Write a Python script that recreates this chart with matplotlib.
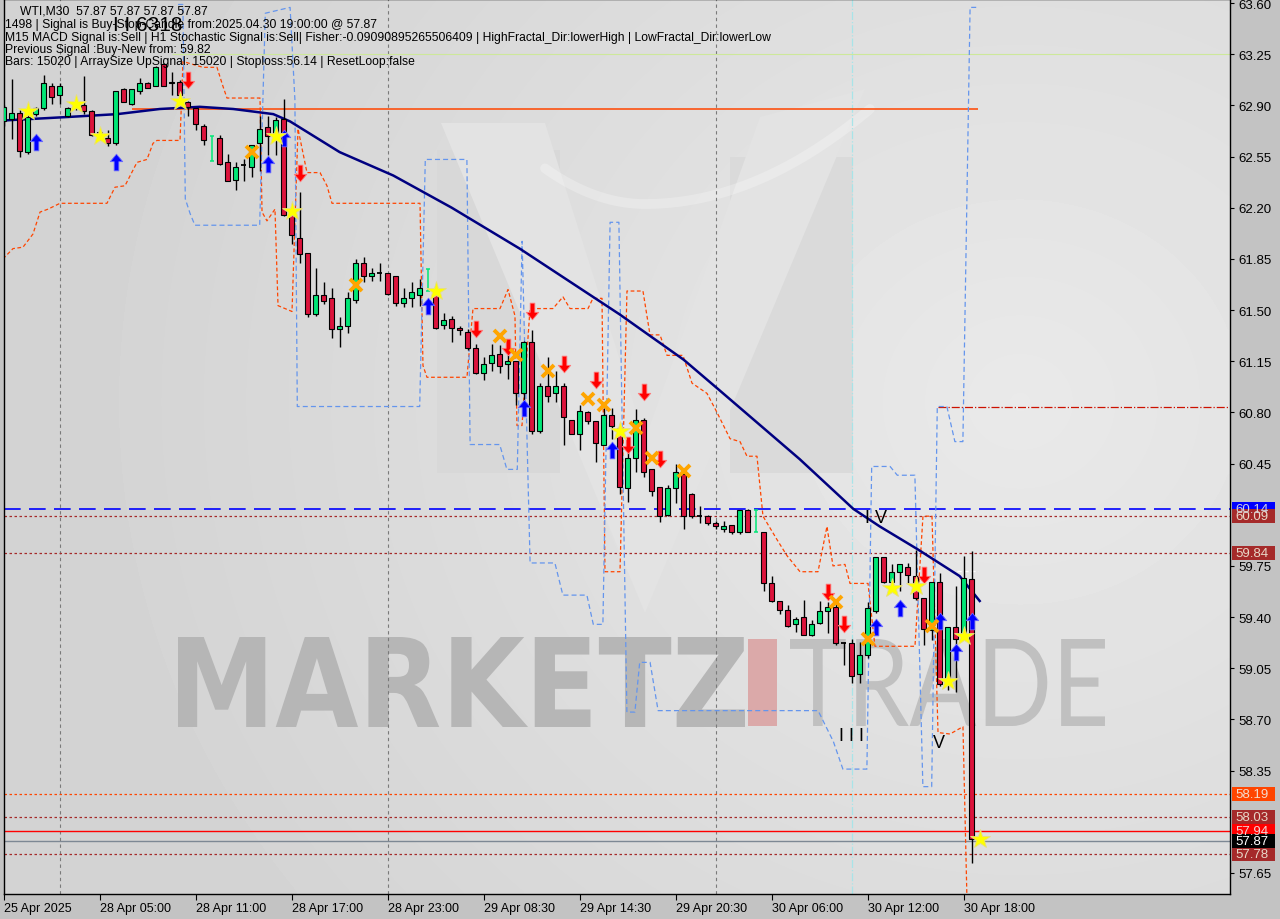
import numpy as np
import matplotlib.pyplot as plt
import matplotlib.transforms as mtransforms
from matplotlib.patches import Rectangle, Polygon, PathPatch
from matplotlib.path import Path
from matplotlib.textpath import TextPath
from matplotlib.font_manager import FontProperties

nan = np.nan

# WTI M30 bars, index -1 is the bar cut by the left edge
bar_idx = np.arange(-1, 122)
opens = [62.79, 62.81, 62.85, 62.58, 62.84, 62.88, 63.03, 62.97, 62.83, 62.88,
         62.90, 62.86, 62.72, 62.68, 62.64, 63.01, 62.91, 63.00, 63.05, 63.03,
         63.18, 63.05, 63.06, 62.92, 62.88, 62.76, nan, 62.68, 62.51, 62.39,
         62.49, 62.48, 62.64, 62.75, 62.70, 62.81, 62.15, 61.99, 61.89, 61.47,
         61.60, 61.58, 61.37, 61.39, 61.57, 61.82, 61.73, 61.75, 61.75, 61.73,
         61.55, 61.58, 61.60, nan, 61.61, 61.40, 61.44, 61.38, 61.35, 61.24,
         61.07, 61.14, 61.20, 61.13, 61.15, 60.93, 61.28, 60.67, 60.98, 60.93,
         60.98, 60.75, 60.65, 60.80, 60.74, 60.58, 60.78, 60.69, 60.28, 60.49,
         60.75, 60.41, 60.29, 60.10, 60.28, 60.38, 60.24, 60.09, 60.09, 60.04,
         60.00, 60.03, 59.98, 60.13, nan, 59.98, 59.63, 59.51, 59.45, 59.35,
         59.40, 59.28, 59.36, 59.44, 59.47, 59.22, 59.22, 59.01, 59.14, 59.44,
         59.81, 59.64, 59.71, 59.74, 59.68, 59.53, 59.31, 59.64, 58.94, 59.33,
         59.28, 59.66, 57.87]
highs = [62.90, 63.08, 62.87, 62.84, 62.89, 63.11, 63.05, 63.05, 62.89, 62.93,
         63.10, 62.87, 62.73, 62.73, 63.00, 63.02, 63.01, 63.09, 63.06, 63.17,
         63.19, 63.13, 63.07, 62.93, 62.88, 62.77, nan, 62.70, 62.57, 62.51,
         62.53, 62.63, 62.83, 62.83, 62.82, 62.94, 62.17, 62.31, 61.89, 61.79,
         61.69, 61.65, 61.45, 61.62, 61.85, 61.86, 61.79, 61.82, 61.75, 61.73,
         61.65, 61.69, 61.71, nan, 61.67, 61.48, 61.46, 61.39, 61.37, 61.27,
         61.18, 61.27, 61.26, 61.19, 61.15, 61.29, 61.36, 61.00, 61.18, 61.08,
         61.00, 60.75, 60.85, 60.81, 60.74, 60.83, 60.83, 60.70, 60.58, 60.82,
         60.76, 60.41, 60.29, 60.30, 60.45, 60.41, 60.25, 60.16, 60.10, 60.06,
         60.06, 60.03, 60.13, 60.14, nan, 59.98, 59.68, 59.51, 59.48, 59.40,
         59.52, 59.38, 59.51, 59.50, 59.49, 59.23, 59.25, 59.23, 59.50, 59.81,
         59.81, 59.76, 59.76, 59.77, 59.86, 59.53, 59.64, 59.70, 59.33, 59.61,
         59.82, 59.85, 57.87]
lows = [62.76, 62.67, 62.55, 62.57, 62.83, 62.87, 62.91, 62.91, 62.82, 62.87,
        62.84, 62.69, 62.66, 62.62, 62.63, 62.92, 62.90, 62.98, 63.02, 63.03,
        63.03, 62.97, 62.93, 62.83, 62.73, 62.63, nan, 62.49, 62.38, 62.32,
        62.38, 62.41, 62.45, 62.56, 62.56, 62.14, 61.95, 61.82, 61.45, 61.46,
        61.54, 61.31, 61.25, 61.34, 61.55, 61.69, 61.70, 61.70, 61.60, 61.53,
        61.52, 61.52, 61.53, nan, 61.37, 61.37, 61.28, 61.33, 61.23, 61.06,
        61.02, 61.08, 61.07, 61.03, 60.85, 60.78, 60.65, 60.66, 60.87, 60.87,
        60.58, 60.65, 60.54, 60.72, 60.46, 60.58, 60.62, 60.24, 60.19, 60.39,
        60.36, 60.23, 60.05, 60.09, 60.18, 60.00, 60.08, 60.04, 60.03, 60.00,
        59.98, 59.97, 59.97, 59.98, nan, 59.58, 59.50, 59.42, 59.33, 59.30,
        59.28, 59.27, 59.35, 59.29, 59.21, 59.07, 58.95, 58.95, 59.12, 59.43,
        59.63, 59.58, 59.58, 59.63, 59.52, 59.21, 59.24, 58.93, 58.90, 58.89,
        59.27, 57.72, 57.87]
closes = [62.89, 62.85, 62.59, 62.82, 62.88, 63.05, 62.96, 63.03, 62.88, 62.91,
          62.86, 62.70, 62.69, 62.64, 63.00, 62.92, 63.01, 63.05, 63.02, 63.16,
          63.03, 63.06, 62.97, 62.89, 62.77, 62.66, nan, 62.50, 62.38, 62.48,
          62.49, 62.63, 62.74, 62.69, 62.80, 62.15, 62.01, 61.88, 61.47, 61.60,
          61.56, 61.37, 61.39, 61.58, 61.82, 61.73, 61.75, 61.75, 61.61, 61.55,
          61.58, 61.62, 61.65, nan, 61.38, 61.43, 61.38, 61.36, 61.24, 61.07,
          61.13, 61.19, 61.12, 61.15, 60.93, 61.28, 60.67, 60.98, 60.91, 60.98,
          60.77, 60.65, 60.81, 60.74, 60.59, 60.78, 60.71, 60.29, 60.49, 60.75,
          60.39, 60.26, 60.09, 60.28, 60.39, 60.09, 60.09, 60.09, 60.04, 60.02,
          60.02, 59.98, 60.13, 59.98, nan, 59.63, 59.51, 59.45, 59.34, 59.39,
          59.28, 59.35, 59.44, 59.47, 59.22, 59.22, 59.00, 59.14, 59.46, 59.81,
          59.64, 59.71, 59.76, 59.69, 59.53, 59.32, 59.64, 58.94, 59.33, 59.25,
          59.67, 57.88, 57.87]

# green signal ticks standing in for a candle
tick_idx = [25, 52, 93]
tick_lo = [62.52, 61.63, 59.98]
tick_hi = [62.69, 61.78, 60.13]

# moving average
ma_idx = [-1.5, 6.9, 13.2, 18.5, 23.5, 27.7, 32.7, 34.8, 41.0, 47.7, 55.0,
          63.5, 76.0, 84.0, 88.5, 98.5, 105.2, 108.5, 113.2, 118.5, 121.0]
ma_val = [62.795, 62.82, 62.84, 62.875, 62.89, 62.875, 62.84, 62.79, 62.58, 62.42, 62.20,
          61.92, 61.47, 61.16, 60.95, 60.48, 60.14, 60.02, 59.865, 59.68, 59.51]

# stepped channel lines
red_ch_idx = [-1.09, 0.16, 1.41, 2.66, 3.54, 4.54, 6.04, 11.91, 12.91, 14.16,
              15.66, 16.91, 17.66, 18.16, 21.04, 21.41, 23.91, 25.66, 26.41, 26.91,
              31.04, 31.29, 31.91, 32.91, 33.29, 35.04, 35.79, 36.91, 38.54, 39.41,
              40.04, 51.04, 51.41, 51.91, 56.91, 57.66, 61.04, 62.04, 62.91, 63.16,
              63.79, 64.79, 67.66, 68.91, 69.79, 72.04, 72.66, 73.79, 74.16, 76.04,
              76.91, 78.91, 79.79, 81.04, 81.91, 83.91, 85.04, 86.91, 88.16, 89.79,
              91.04, 91.91, 93.16, 93.91, 95.66, 96.91, 98.54, 100.79, 101.91, 102.66,
              104.16, 104.79, 107.04, 107.91, 112.91, 113.91, 115.04, 115.79, 117.29, 118.91,
              119.41]
red_ch_val = [61.85, 61.92, 61.93, 62.02, 62.17, 62.19, 62.23, 62.23, 62.34, 62.35,
              62.51, 62.53, 62.64, 62.66, 62.66, 63.20, 63.16, 63.16, 63.03, 62.95,
              62.95, 62.17, 62.11, 62.19, 61.53, 61.49, 62.74, 62.44, 62.44, 62.35,
              62.23, 62.23, 61.12, 61.04, 61.04, 61.51, 61.51, 61.64, 61.46, 60.71,
              60.71, 61.51, 61.51, 61.59, 61.51, 61.51, 61.58, 61.58, 59.71, 59.71,
              61.63, 61.63, 61.33, 61.33, 61.19, 61.19, 61.00, 60.93, 60.80, 60.62,
              60.60, 60.50, 60.50, 60.09, 59.93, 59.82, 59.71, 59.71, 60.02, 59.75,
              59.76, 59.63, 59.63, 59.20, 59.20, 60.09, 60.09, 58.61, 58.60, 58.65,
              57.47]
blue_ch_idx = [20.8, 21.4, 21.7, 22.3, 22.9, 31.0, 31.4, 31.7, 34.8, 35.4,
               35.7, 51.0, 51.7, 56.9, 57.3, 61.0, 61.9, 63.2, 63.8, 64.8,
               67.9, 68.9, 71.9, 72.7, 73.9, 74.8, 75.9, 76.9, 77.9, 78.5,
               79.8, 80.8, 100.8, 101.7, 102.7, 103.9, 106.9, 107.5, 109.8, 110.7,
               112.9, 113.9, 115.0, 115.7, 116.9, 117.9, 118.9, 119.8, 120.8]
blue_ch_val = [63.59, 63.59, 62.26, 62.16, 62.08, 62.08, 62.94, 63.53, 63.57, 62.94,
               60.84, 60.84, 62.53, 62.53, 60.58, 60.58, 60.41, 60.41, 61.97, 59.77,
               59.77, 59.55, 59.55, 59.35, 59.35, 62.10, 62.10, 58.75, 58.75, 59.09,
               59.09, 58.76, 58.76, 58.66, 58.55, 58.36, 58.36, 60.43, 60.43, 60.37,
               60.37, 58.24, 58.24, 60.84, 60.84, 60.60, 60.60, 63.57, 63.57]

# signal markers
up_idx = [3, 13, 32, 34, 52, 64, 75, 108, 111, 116, 118, 120]
up_val = [62.65, 62.51, 62.50, 62.68, 61.53, 60.83, 60.54, 59.33, 59.46, 59.37, 59.16, 59.37]
dn_idx = [22, 36, 58, 62, 65, 69, 73, 77, 79, 81, 102, 104, 114]
dn_val = [63.07, 62.44, 61.37, 61.25, 61.49, 61.13, 61.02, 60.58, 60.94, 60.48, 59.57, 59.35, 59.69]
star_idx = [2, 8, 11, 21, 33, 35, 53, 76, 110, 113, 117, 119, 121]
star_val = [62.86, 62.91, 62.69, 62.93, 62.69, 62.18, 61.63, 60.67, 59.60, 59.61, 58.96, 59.27, 57.88]
cross_idx = [30, 43, 61, 63, 67, 72, 74, 78, 80, 84, 103, 107, 115]
cross_val = [62.58, 61.67, 61.32, 61.19, 61.08, 60.89, 60.85, 60.69, 60.49, 60.40, 59.50, 59.25, 59.34]

# horizontal levels
level_vals = [60.14, 60.09, 59.84, 58.19, 58.03, 57.94, 57.87, 57.78]
stop_level = 62.875
top_level = 63.25
res_level = 60.84

price_ticks = [63.60, 63.25, 62.90, 62.55, 62.20, 61.85, 61.50, 61.15, 60.80, 60.45,
               59.75, 59.40, 59.05, 58.70, 58.35, 57.65]
time_idx = [-0.96, 11, 23, 35, 47, 59, 71, 83, 95, 107, 119]
time_lbl = ['25 Apr 2025', '28 Apr 05:00', '28 Apr 11:00', '28 Apr 17:00', '28 Apr 23:00',
            '29 Apr 08:30', '29 Apr 14:30', '29 Apr 20:30', '30 Apr 06:00', '30 Apr 12:00',
            '30 Apr 18:00']
sep_idx = [6, 47, 88]

header = ['WTI,M30  57.87 57.87 57.87 57.87',
          '1498 | Signal is Buy-Stop-Candle from:2025.04.30 19:00:00 @ 57.87',
          'M15 MACD Signal is:Sell | H1 Stochastic Signal is:Sell| Fisher:-0.09090895265506409 | '
          'HighFractal_Dir:lowerHigh | LowFractal_Dir:lowerLow',
          'Previous Signal :Buy-New from: 59.82',
          'Bars: 15020 | ArraySize UpSignal: 15020 | Stoploss:56.14 | ResetLoop:false']

W, H = 1280, 920
fig = plt.figure(figsize=(W / 100, H / 100), dpi=100, facecolor='#c3c3c3')
ax = fig.add_axes([4 / W, 25 / H, 1226 / W, 895 / H])
pix = mtransforms.Affine2D().scale(1 / W, -1 / H).translate(0, 1) + fig.transFigure

# background shading
gy, gx = np.mgrid[0:1:200j, 0:1:300j]
d = np.hypot((gx - 0.83) * 1.25, gy - 0.55)
shade = 0.915 - 0.09 * np.clip(d, 0, 1)
ax.imshow(shade, cmap='gray', vmin=0, vmax=1, extent=(0, 1, 0, 1), origin='lower',
          transform=ax.transAxes, aspect='auto', zorder=0, interpolation='bilinear')

# faint logo
for poly, col in [([(437, 151), (560, 151), (560, 474), (437, 474)], '#d8d8d8'),
                  ([(730, 158), (853, 158), (853, 474), (730, 474)], '#dadada'),
                  ([(441, 124), (545, 124), (645, 440), (760, 118), (865, 90), (645, 614)], '#e3e3e3')]:
    ax.add_patch(Polygon(poly, closed=True, transform=pix, fc=col, ec='none', zorder=0.5))
sw_x = np.linspace(545, 870, 60)
sw_y = 205 - 95 * ((sw_x - 645) / 225) ** 2 * np.where(sw_x > 645, 1, 1.9)
ax.plot(sw_x, sw_y, transform=pix, color='white', lw=7, alpha=0.25, zorder=0.6, solid_capstyle='round')

# watermark
def fit_text(s, box, color, prop):
    tp = TextPath((0, 0), s, size=100, prop=prop)
    bb = tp.get_extents()
    x0, y0, x1, y1 = box
    tr = (mtransforms.Affine2D().translate(-bb.x0, -bb.y0)
          .scale((x1 - x0) / bb.width, -(y1 - y0) / bb.height).translate(x0, y1) + pix)
    ax.add_patch(PathPatch(tp, transform=tr, fc=color, ec='none', zorder=1))

fit_text('MARKETZ', (178, 638, 745, 728), '#b6b6b6', FontProperties(family='DejaVu Sans', weight='bold'))
ax.add_patch(Rectangle((748, 640), 29, 87, transform=pix, fc='#dba9a9', ec='none', zorder=1))
fit_text('TRADE', (790, 640, 1105, 727), '#c0c0c0', FontProperties(family='Lato', weight='normal'))

x_lo, x_hi = -0.9625, 152.29
y_lo, y_hi = 57.5057, 63.6274

# separators
for s in sep_idx:
    ax.axvline(s, color='#7a7a7a', lw=0.8, ls=(0, (3, 3)), zorder=1.5)
ax.axvline(105, color='#a8e4e8', lw=0.9, ls='-.', zorder=1.5)

# levels
ax.axhline(level_vals[0], color='#0000ff', lw=1.2, ls=(0, (10, 5)), zorder=2)
for v in (level_vals[1], level_vals[2], level_vals[4], level_vals[7]):
    ax.axhline(v, color='#a52a2a', lw=0.9, ls=(0, (2, 2)), zorder=2)
ax.axhline(level_vals[3], color='#ff4500', lw=0.9, ls=(0, (2, 2)), zorder=2)
ax.axhline(level_vals[5], color='#ff0000', lw=1.0, zorder=2)
ax.axhline(level_vals[6], color='#7d8894', lw=1.0, zorder=2)
ax.hlines(stop_level, 15, 120.8, color='#ff4500', lw=1.1, zorder=2)
ax.hlines(top_level, 20, x_hi, color='#cde89a', lw=0.8, zorder=2)
ax.hlines(res_level, 115.8, x_hi, color='#cc1100', lw=0.9, ls='-.', zorder=2)
ax.hlines(59.715, 118.2, 120.8, color='white', lw=1, ls=(0, (3, 2)), zorder=2)

# channels and average
ax.plot(red_ch_idx, red_ch_val, color='#ff4500', lw=0.9, ls=(0, (3, 2)), zorder=2.5)
ax.plot(blue_ch_idx, blue_ch_val, color='#6495ed', lw=0.9, ls=(0, (4, 2.5)), zorder=2.5)
ax.plot(ma_idx, ma_val, color='#000080', lw=1.8, zorder=3)

# candles
o = np.array(opens); hi = np.array(highs); lo = np.array(lows); c = np.array(closes)
ok = ~np.isnan(o)
up = ok & (c > o)
dn = ok & (c < o)
dj = ok & (c == o)
ax.vlines(bar_idx[ok], lo[ok], hi[ok], color='black', lw=1, zorder=4)
ax.bar(bar_idx[up], (c - o)[up], bottom=o[up], width=0.62, color='#00e676',
       edgecolor='black', lw=0.8, zorder=5)
ax.bar(bar_idx[dn], (o - c)[dn], bottom=c[dn], width=0.62, color='#dc143c',
       edgecolor='black', lw=0.8, zorder=5)
ax.hlines(c[dj], bar_idx[dj] - 0.31, bar_idx[dj] + 0.31, color='black', lw=1.3, zorder=5)

ax.vlines(tick_idx, tick_lo, tick_hi, color='#00e676', lw=1.1, zorder=5)
for t in (tick_lo, tick_hi):
    ax.hlines(t, np.array(tick_idx) - 0.25, np.array(tick_idx) + 0.25, color='#00e676', lw=1.1, zorder=5)

# markers
arrow = [(0, 1), (0.75, 0.1), (0.28, 0.1), (0.28, -1), (-0.28, -1), (-0.28, 0.1), (-0.75, 0.1), (0, 1)]
up_arrow = Path(arrow, closed=True)
dn_arrow = Path([(x, -y) for x, y in arrow], closed=True)
ax.plot(up_idx, up_val, ls='none', marker=up_arrow, ms=12, color='#0000ff', mec='#6a6aff', mew=0.6, zorder=6)
ax.plot(dn_idx, dn_val, ls='none', marker=dn_arrow, ms=12, color='#ff0000', mec='#ff7a7a', mew=0.6, zorder=6)
ax.plot(cross_idx, cross_val, ls='none', marker='x', ms=8, mew=2.8, color='#ffa500', zorder=6)
ax.plot(star_idx, star_val, ls='none', marker='*', ms=15, color='#ffff00', mec='#e6de80', mew=0.6, zorder=7)

# wave labels
wave_font = dict(fontsize=13, color='black', family='Liberation Sans', ha='center', va='center', zorder=7)
ax.text(108.0, 60.078, 'I V', **wave_font)
ax.text(105.0, 58.593, 'I I I', **wave_font)
ax.text(115.9, 58.545, 'V', **wave_font)
ax.text(12.7, 63.45, 'I I 6318', fontsize=15, color='black', family='Liberation Sans',
        ha='left', va='center', zorder=7)

ax.set_xlim(x_lo, x_hi)
ax.set_ylim(y_lo, y_hi)
ax.set_autoscale_on(False)

for sp in ax.spines.values():
    sp.set_color('black')
    sp.set_linewidth(1)
ax.yaxis.tick_right()
ax.set_yticks(price_ticks)
ax.set_yticklabels([f'{v:.2f}' for v in price_ticks])
ax.set_xticks(time_idx)
ax.set_xticklabels(time_lbl)
for lbl in ax.get_xticklabels():
    lbl.set_ha('left')
ax.tick_params(axis='y', direction='out', length=3, pad=3, labelsize=9.5, colors='black')
ax.tick_params(axis='x', direction='out', length=4, pad=2, labelsize=9, colors='black')
for lbl in ax.get_xticklabels() + ax.get_yticklabels():
    lbl.set_family('Liberation Sans')

# price boxes on the axis
blend = mtransforms.blended_transform_factory(ax.transAxes, ax.transData)
px_unit = 895 / (y_hi - y_lo)
bh = 14 / px_unit
box_style = {60.14: ('#0000ff', '#d0d0e0'), 60.09: ('#a52a2a', '#e8d8c8'), 59.84: ('#a52a2a', '#e8d8c8'),
             58.19: ('#ff4500', '#f4dccc'), 58.03: ('#a52a2a', '#e8d8c8'), 57.94: ('#ff0000', '#f4d4d4'),
             57.87: ('#000000', '#ffffff'), 57.78: ('#a52a2a', '#e8d8c8')}
for v in (60.14, 60.09, 59.84, 58.19, 57.94, 58.03, 57.78, 57.87):
    bg, fg = box_style[v]
    ax.add_patch(Rectangle((1228 / 1226, v - bh / 2), 43 / 1226, bh, transform=blend,
                           fc=bg, ec='none', clip_on=False, zorder=10))
    ax.text(1231 / 1226, v, f'{v:.2f}', transform=blend, ha='left', va='center', fontsize=9.5,
            color=fg, family='Liberation Sans', clip_on=False, zorder=11)

# header text
ys = [12, 25, 38, 50, 62]
xs = [20, 5, 5, 5, 5]
for s, x, y in zip(header, xs, ys):
    fig.text(x / W, 1 - y / H, s, fontsize=8.7, family='Liberation Sans', color='black',
             ha='left', va='center', zorder=20)

fig.savefig('out.png', dpi=100, facecolor=fig.get_facecolor())
